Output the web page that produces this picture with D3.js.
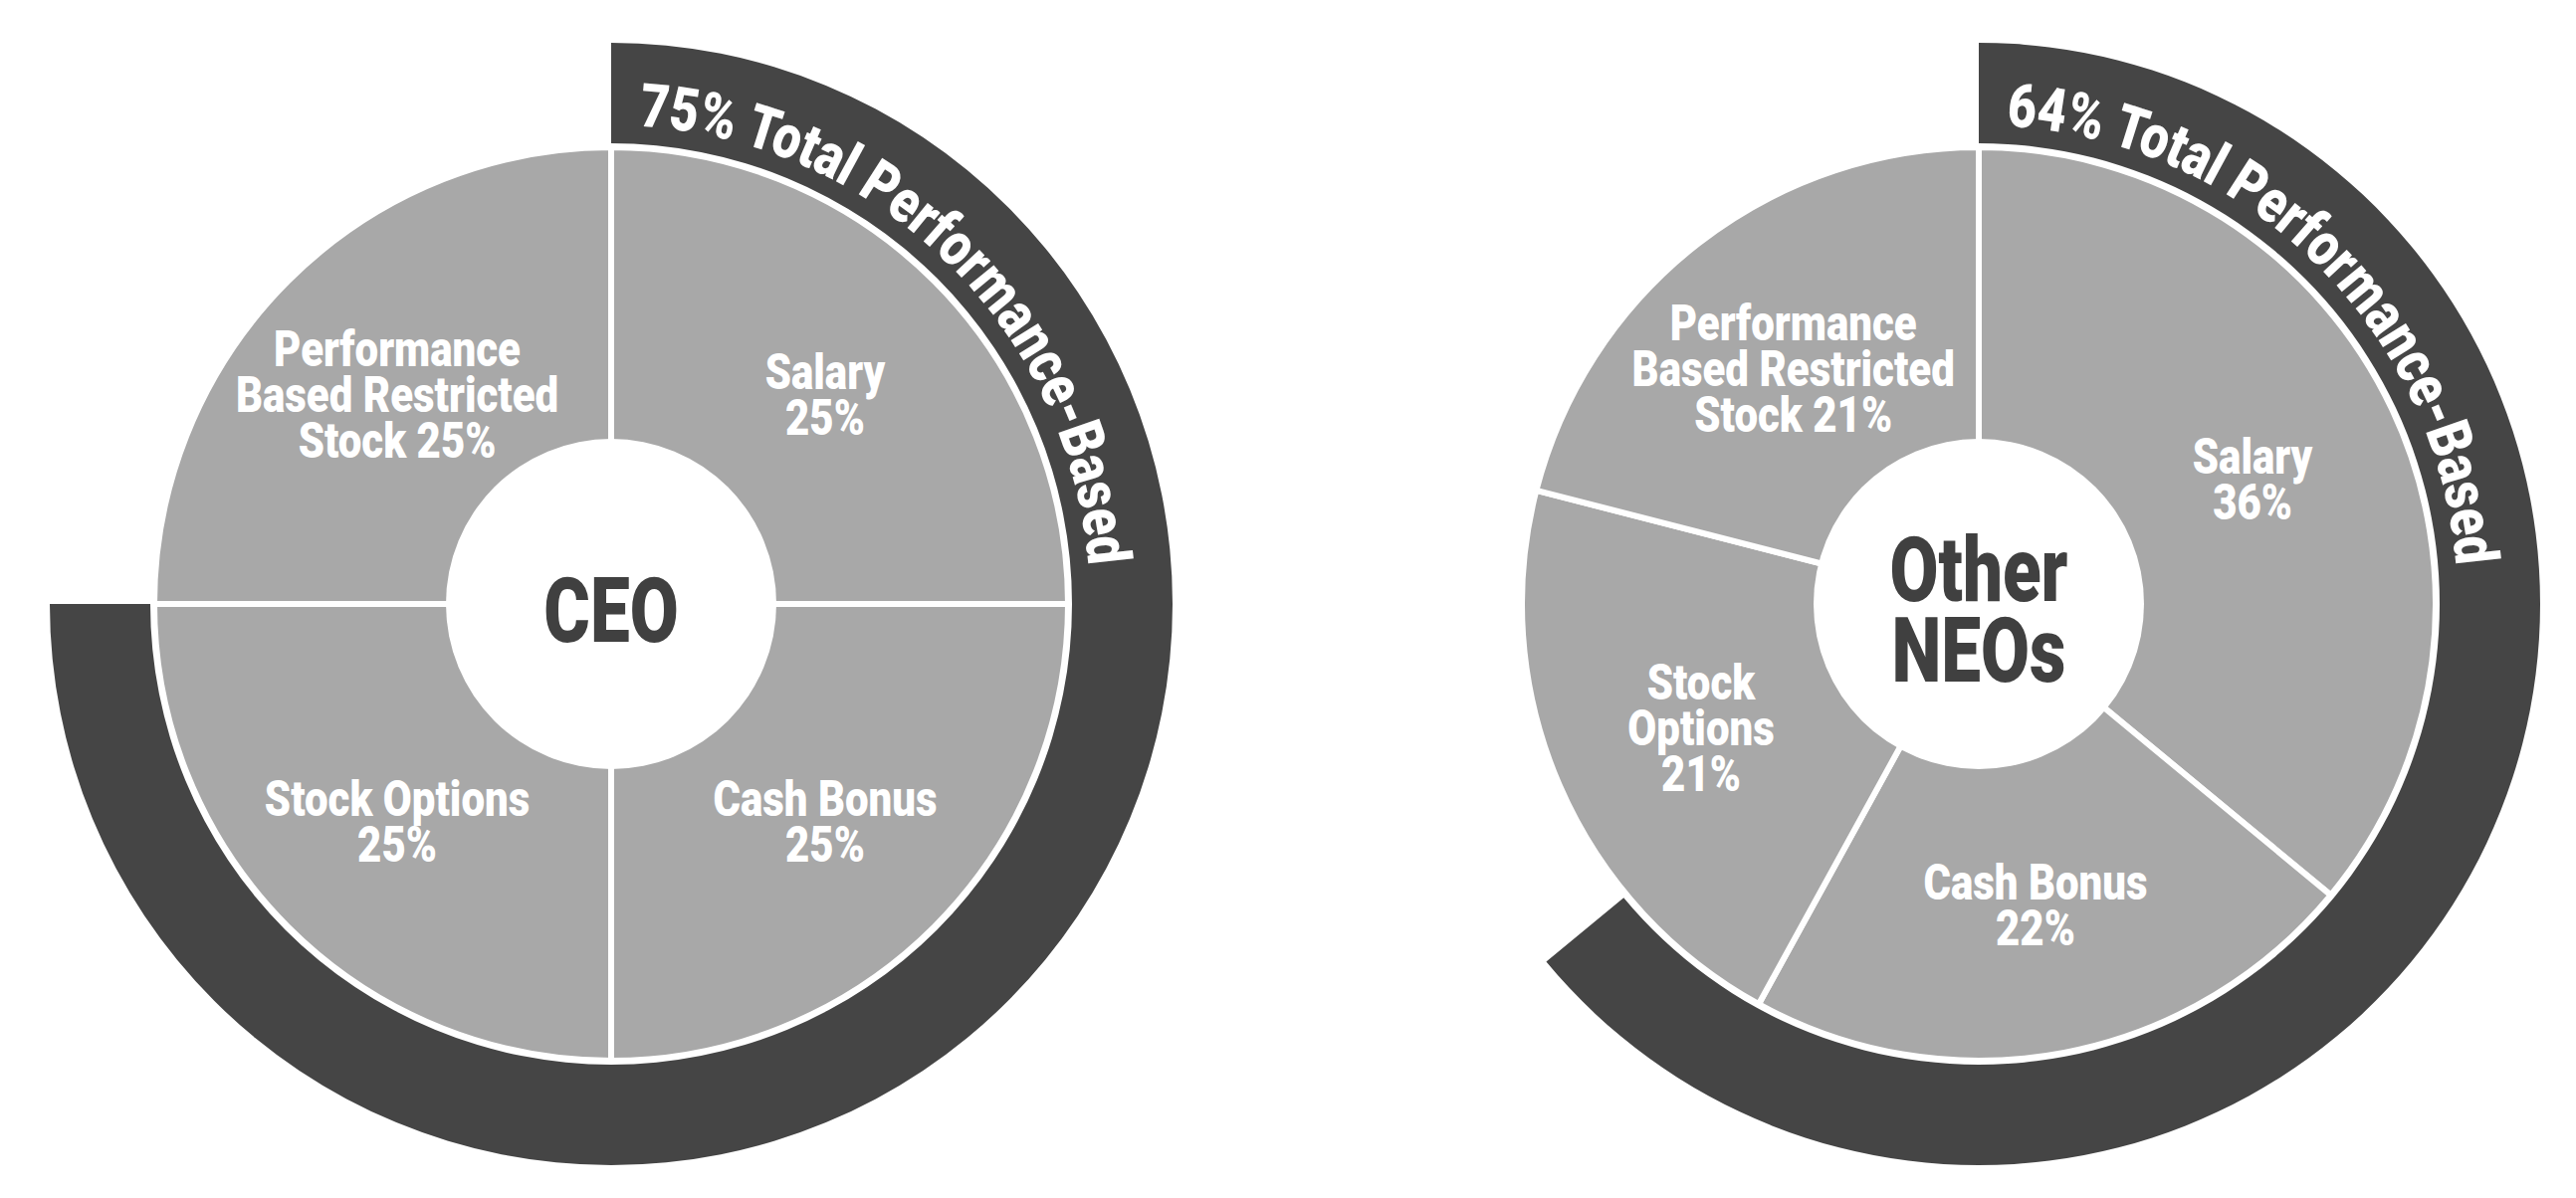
<!DOCTYPE html>
<html>
<head>
<meta charset="utf-8">
<script src="https://cdn.jsdelivr.net/npm/d3@7"></script>
<style>
  html, body { margin: 0; padding: 0; background: #ffffff; }
  svg { display: block; }
  text { font-family: Roboto, "Liberation Sans", Arial, sans-serif; font-weight: 900; }
</style>
</head>
<body>
<script>
// ---------------- data ----------------
const chartNames = ["CEO", "Other NEOs"];
const centerLines = [["CEO"], ["Other", "NEOs"]];
const categories = ["Salary", "Cash Bonus", "Stock Options", "Performance Based Restricted Stock"];
const ceoValues = [25, 25, 25, 25];
const neoValues = [36, 22, 21, 21];
const performanceTotals = [75, 64];
const bandLabelSuffix = "% Total Performance-Based";
// label line breaks (percent goes on its own line unless inline)
const ceoLabelLines = [["Salary"], ["Cash Bonus"], ["Stock Options"], ["Performance", "Based Restricted", "Stock"]];
const neoLabelLines = [["Salary"], ["Cash Bonus"], ["Stock", "Options"], ["Performance", "Based Restricted", "Stock"]];
const percentInline = [false, false, false, true];

// ---------------- layout ----------------
const W = 2588, H = 1204;
const centersX = [614, 1988];
const centerY = 607;
const R = { hole: 166, pie: 459, bandIn: 463, bandOut: 564, textBase: 481, label: 304 };
const COLORS = { slice: "#a8a8a8", band: "#454545", center: "#404040", white: "#ffffff" };

const svg = d3.select("body").append("svg")
  .attr("width", W).attr("height", H).attr("viewBox", `0 0 ${W} ${H}`);
svg.append("rect").attr("width", W).attr("height", H).attr("fill", "#fff");
const defs = svg.append("defs");

const shareToAngle = d3.scaleLinear().domain([0, 100]).range([0, 2 * Math.PI]);
const allValues = [ceoValues, neoValues];
const allLines = [ceoLabelLines, neoLabelLines];

chartNames.forEach((name, ci) => {
  const data = categories.map((c, k) => ({ category: c, value: allValues[ci][k], lines: allLines[ci][k], inline: percentInline[k] }));
  const g = svg.append("g").attr("transform", `translate(${centersX[ci]},${centerY})`);

  // performance band
  const bandArc = d3.arc().innerRadius(R.bandIn).outerRadius(R.bandOut)
    .startAngle(0).endAngle(shareToAngle(performanceTotals[ci]));
  g.append("path").attr("d", bandArc()).attr("fill", COLORS.band);

  // slices
  const pie = d3.pie().sort(null).value(d => d.value).startAngle(0).endAngle(2 * Math.PI);
  const arcs = pie(data);
  const sliceArc = d3.arc().innerRadius(0).outerRadius(R.pie);
  g.selectAll("path.slice").data(arcs).join("path")
    .attr("class", "slice")
    .attr("d", sliceArc)
    .attr("fill", COLORS.slice)
    .attr("stroke", COLORS.white)
    .attr("stroke-width", 6)
    .attr("stroke-linejoin", "round");

  // center hole
  g.append("circle").attr("r", R.hole).attr("fill", COLORS.white);

  // center text
  const cl = centerLines[ci];
  const ct = g.append("text")
    .attr("text-anchor", "middle")
    .attr("fill", COLORS.center)
    .attr("font-size", 91)
    .attr("transform", "scale(0.78,1)");
  cl.forEach((line, li) => {
    ct.append("tspan").attr("x", 0)
      .attr("y", (li - (cl.length - 1) / 2) * 81 + 32.5 + 5)
      .text(line);
  });

  // slice labels
  const labelArc = d3.arc().innerRadius(R.label).outerRadius(R.label);
  g.selectAll("text.label").data(arcs).join("text")
    .attr("class", "label")
    .attr("text-anchor", "middle")
    .attr("fill", COLORS.white)
    .attr("font-size", 50)
    .attr("transform", d => {
      const [x, y] = labelArc.centroid(d);
      return `translate(${x},${y + 4}) scale(0.84,1)`;
    })
    .each(function(d) {
      const pct = d.data.value + "%";
      const lines = d.data.inline
        ? d.data.lines.slice(0, -1).concat([d.data.lines[d.data.lines.length - 1] + " " + pct])
        : d.data.lines.concat([pct]);
      const sel = d3.select(this);
      lines.forEach((line, li) => {
        sel.append("tspan").attr("x", 0)
          .attr("y", (li - (lines.length - 1) / 2) * 46 + 17.5)
          .text(line);
      });
    });

  // curved band label
  const pathId = `bandPath${ci}`;
  const p = d3.path();
  p.arc(0, 0, R.textBase, -Math.PI / 2, -Math.PI / 2 + shareToAngle(performanceTotals[ci]));
  defs.append("path").attr("id", pathId).attr("d", p.toString())
    .attr("transform", `translate(${centersX[ci]},${centerY})`);
  const startDeg = 3.3, endDeg = 85.4;
  const toRad = Math.PI / 180;
  const bt = svg.append("text")
    .attr("fill", COLORS.white)
    .attr("font-size", 61);
  bt.append("textPath")
    .attr("href", `#${pathId}`)
    .attr("startOffset", R.textBase * startDeg * toRad)
    .attr("textLength", R.textBase * (endDeg - startDeg) * toRad)
    .attr("lengthAdjust", "spacingAndGlyphs")
    .text(performanceTotals[ci] + bandLabelSuffix);
});
</script>
</body>
</html>
